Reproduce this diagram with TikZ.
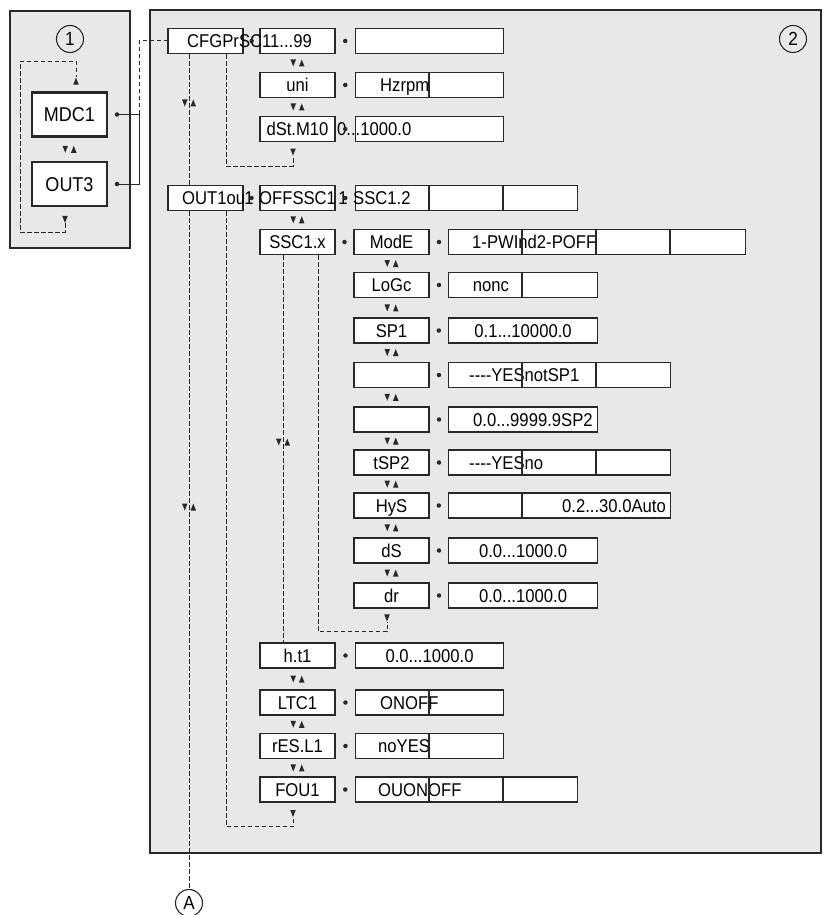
\documentclass[tikz,border=0pt]{standalone}
\usepackage{fontspec}
\setsansfont{Liberation Sans}[FakeStretch=0.9]
\usepackage{tikz}
\usetikzlibrary{calc}
\tikzset{every picture/.style={/utils/exec={\sffamily}}}
\definecolor{panel}{RGB}{232,232,232}
\definecolor{ink}{RGB}{40,40,40}
\newcommand{\dashes}{-\kern0pt-\kern0pt-\kern0pt-}
\tikzset{
  box/.style={draw=ink, fill=white, line width=1.1pt, minimum width=75pt, minimum height=25pt, inner sep=0pt,
    text height=13pt, text depth=0pt, font=\fontsize{18.5}{20}\selectfont},
  keybox/.style={box, line width=1.9pt},
  bigbox/.style={box, line width=2.8pt, minimum height=44pt, text height=14pt, font=\fontsize{20}{22}\selectfont},
  valbox/.style={box, anchor=west},
  txt/.style={inner sep=0pt, text height=13pt, text depth=0pt, font=\fontsize{18.5}{20}\selectfont},
  tag/.style={circle, draw=ink, line width=1.1pt, minimum size=27pt, inner sep=0pt, font=\fontsize{19}{20}\selectfont},
  bullet/.style={circle, fill=ink, inner sep=0pt, minimum size=4.5pt},
  link/.style={draw=ink, line width=1pt, dash pattern=on 4.5pt off 2.5pt},
  feed/.style={draw=ink, line width=1pt},
  updn/.pic={\fill[ink] (-7,-3.5) -- (-1.5,-3.5) -- (-4.25,3.5) -- cycle;
             \fill[ink] (1.5,3.5) -- (7,3.5) -- (4.25,-3.5) -- cycle;},
  dnmk/.pic={\fill[ink] (-2.75,-3.5) -- (2.75,-3.5) -- (0,3.5) -- cycle;},
  upmk/.pic={\fill[ink] (-2.75,3.5) -- (2.75,3.5) -- (0,-3.5) -- cycle;}
}

\begin{document}
\begin{tikzpicture}[x=1pt, y=-1pt]
        \useasboundingbox (0,0) rectangle (826,915);

        % Panels
        \draw[draw=ink, fill=panel, line width=1.6pt] (10,11) rectangle (130,248);
        \draw[draw=ink, fill=panel, line width=1.4pt] (150,10) rectangle (821,853);

        % Nodes
        \node[bigbox] (mdc) at (69.5,114.5) {MDC1};
        \node[bigbox] (out3) at (69.5,184) {OUT3};
        \node[bullet] (dmdc) at (117,114.5) {};
        \node[bullet] (dout3) at (117,184) {};

        \node[keybox] (cfg) at (205.5,41) {};
        \node[box] (out1) at (205.5,198) {};

        \node[box] (sc) at (297.5,41) {};
        \node[box] (uni) at (297.5,85) {uni};
        \node[box] (dst) at (297.5,129) {dSt.M10};
        \node[box] (off) at (297.5,198) {};
        \node[keybox] (ssc) at (297.5,242) {SSC1.x};
        \node[keybox] (ht1) at (297.5,655.5) {h.t1};
        \node[keybox] (ltc) at (297.5,702.5) {LTC1};
        \node[keybox] (res) at (297.5,746) {rES.L1};
        \node[box] (fou) at (297.5,789.5) {FOU1};

        \node[keybox] (mode) at (391.5,242) {ModE};
        \node[keybox] (logc) at (391.5,285) {LoGc};
        \node[box] (sp1) at (391.5,330.5) {SP1};
        \node[keybox] (bl1) at (391.5,375) {};
        \node[keybox] (bl2) at (391.5,419.5) {};
        \node[keybox] (tsp) at (391.5,462.5) {tSP2};
        \node[box] (hys) at (391.5,505.5) {HyS};
        \node[keybox] (ds) at (391.5,550.5) {dS};
        \node[keybox] (dr) at (391.5,595.5) {dr};

        % Value fields
        \node[valbox, minimum width=148pt] (v-sc) at (355,41) {};
        \node[valbox, minimum width=148pt] (v-uni) at (355,85) {};
        \node[valbox, minimum width=148pt] (v-dst) at (355,129) {};
        \node[valbox, minimum width=222pt] (v-off) at (355,198) {};
        \node[valbox, minimum width=297pt] (v-mode) at (448,242) {};
        \node[valbox, minimum width=149pt] (v-logc) at (448,285) {};
        \node[valbox, minimum width=149pt] (v-sp1) at (448,330.5) {0.1...10000.0};
        \node[valbox, minimum width=222pt] (v-bl1) at (448,375) {};
        \node[valbox, minimum width=149pt] (v-bl2) at (448,419.5) {};
        \node[valbox, minimum width=222pt] (v-tsp) at (448,462.5) {};
        \node[valbox, minimum width=222pt] (v-hys) at (448,505.5) {};
        \node[valbox, minimum width=149pt] (v-ds) at (448,550.5) {0.0...1000.0};
        \node[valbox, minimum width=149pt] (v-dr) at (448,595.5) {0.0...1000.0};
        \node[valbox, minimum width=148pt] (v-ht1) at (355,655.5) {0.0...1000.0};
        \node[valbox, minimum width=148pt] (v-ltc) at (355,702.5) {};
        \node[valbox, minimum width=148pt] (v-res) at (355,746) {};
        \node[valbox, minimum width=222pt] (v-fou) at (355,789.5) {};

        % Texts running over the borders
        \node[txt, anchor=west] (t-cfg) at (187,41) {CFGPrSC11...99};
        \node[txt, anchor=west] (t-out1) at (182,198) {OUT1ou};
        \node[txt] (t-g1) at (249,198) {1};
        \node[txt, anchor=west] (t-off) at (259,198) {OFFSSC1};
        \node[txt] (t-g2) at (343,198) {1};
        \node[txt, anchor=west] (t-ssc2) at (353,198) {SSC1.2};
        \node[txt, anchor=west] (t-dst) at (337,129) {0...1000.0};
        \node[txt, anchor=west] (t-uni) at (380,85) {Hzrpm};
        \node[txt, anchor=west] (t-mode) at (472,242) {1-PWInd2-POFF};
        \node[txt] (t-logc) at (491,285) {nonc};
        \node[txt, anchor=west] (t-bl1) at (469,375) {\dashes YESnotSP1};
        \node[txt, anchor=west] (t-bl2) at (473,419.5) {0.0...9999.9SP2};
        \node[txt, anchor=west] (t-tsp) at (469,462.5) {\dashes YESno};
        \node[txt, anchor=east] (t-hys) at (666,505.5) {0.2...30.0Auto};
        \node[txt, anchor=west] (t-ltc) at (380,702.5) {ONOFF};
        \node[txt, anchor=west] (t-res) at (378,746) {noYES};
        \node[txt, anchor=west] (t-fou) at (378,789.5) {OUONOFF};

        % Cell dividers
        \foreach \v/\n in {v-uni/1, v-off/2, v-mode/3, v-logc/1, v-bl1/2, v-tsp/2, v-hys/1, v-ltc/1, v-res/1, v-fou/2}
            \foreach \k in {1,...,\n}
                \draw[draw=ink, line width=1.1pt] ([xshift=74*\k]\v.north west) -- ([xshift=74*\k]\v.south west);

        % Dots between fields
        \foreach \a/\b in {cfg/sc, sc/v-sc, uni/v-uni, dst/v-dst, out1/off, off/v-off, ssc/mode, mode/v-mode,
                           logc/v-logc, sp1/v-sp1, bl1/v-bl1, bl2/v-bl2, tsp/v-tsp, hys/v-hys, ds/v-ds, dr/v-dr,
                           ht1/v-ht1, ltc/v-ltc, res/v-res, fou/v-fou}
            \node[bullet] (d-\a) at ($(\a.east)!0.5!(\b.west)$) {};

        % Scroll marks
        \foreach \a/\b in {mdc/out3, sc/uni, uni/dst, off/ssc, mode/logc, logc/sp1, sp1/bl1, bl1/bl2,
                           bl2/tsp, tsp/hys, hys/ds, ds/dr, ht1/ltc, ltc/res, res/fou}
            \pic at ($(\a.south)!0.5!(\b.north)$) {updn};

        % Labels
        \node[tag] (n1) at (70,39) {1};
        \node[tag] (n2) at (793,39) {2};
        \node[tag] (nA) at (189,903) {A};

        % Columns of the dashed edges
        \coordinate (c1) at (189,0);
        \coordinate (c2) at (226,0);
        \coordinate (c3) at (283,0);
        \coordinate (c4) at (318,0);
        \coordinate (jt) at (139,41);
        \coordinate (jb) at (139,184);
        \coordinate (e-out3) at ($(out3.south)+(-4.5,16)$);
        \coordinate (e-mdc) at ($(mdc.north)+(6.5,-14)$);
        \coordinate (e-cfg) at ($(dst.south)+(-4.5,14)$);
        \coordinate (e-ssc) at ($(dr.south)+(-4.5,13)$);
        \coordinate (e-out1) at ($(fou.south)+(-4.5,15)$);

        % Edges
        \draw[feed] (dmdc) -- (dmdc -| jb);
        \draw[feed] (dout3) -- (jb) -- (dmdc -| jb);
        \draw[link] (dmdc -| jb) -- (jt) -- (cfg);
        \draw[link] (e-out3) |- (20,232) |- ($(e-mdc)+(0,-16)$) -- (e-mdc);
        \pic at ($(e-out3)+(0,-4)$) {dnmk};
        \pic at ($(e-mdc)+(0,4)$) {upmk};

        \draw[link] (cfg.south -| c1) -- (out1.north -| c1);
        \draw[link] (out1.south -| c1) -- (nA);
        \draw[link] (cfg.south -| c2) |- ($(e-cfg)+(0,10)$) -- (e-cfg);
        \draw[link] (out1.south -| c2) |- ($(e-out1)+(0,9)$) -- (e-out1);
        \draw[link] (ssc.south -| c3) -- (ht1.north -| c3);
        \draw[link] (ssc.south -| c4) |- ($(e-ssc)+(0,10)$) -- (e-ssc);
        \pic at ($(e-cfg)+(0,-4)$) {dnmk};
        \pic at ($(e-out1)+(0,-4)$) {dnmk};
        \pic at ($(e-ssc)+(0,-4)$) {dnmk};
        \pic at (189,103) {updn};
        \pic at (189,507) {updn};
        \pic at (283,442) {updn};
    \end{tikzpicture}
\end{document}
